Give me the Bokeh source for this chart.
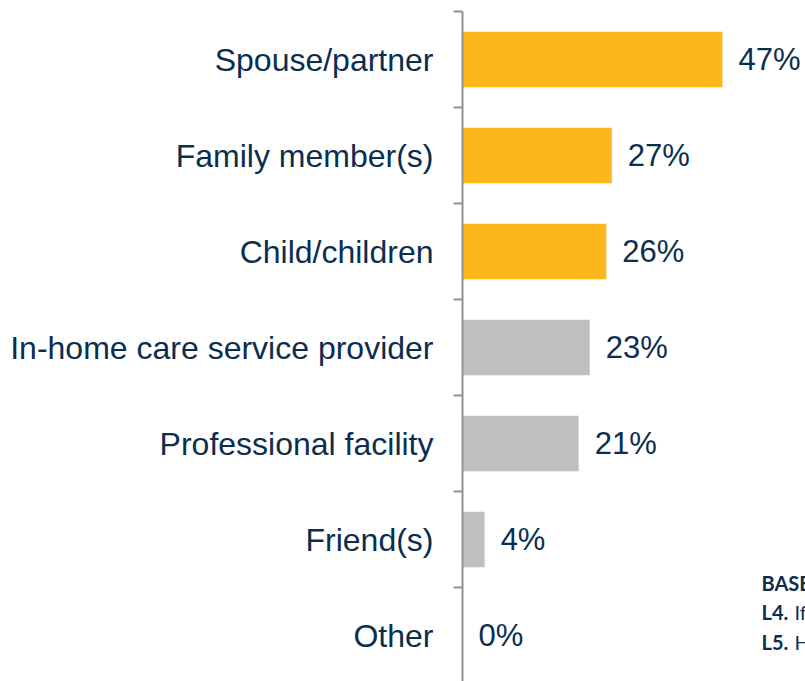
from bokeh.plotting import figure
from bokeh.models import ColumnDataSource, Range1d, FixedTicker, Label
from bokeh.core.properties import value
from bokeh.embed import file_html
from bokeh.resources import INLINE

# ---- data ----
categories = [
    "Spouse/partner",
    "Family member(s)",
    "Child/children",
    "In-home care service provider",
    "Professional facility",
    "Friend(s)",
    "Other",
]
percentages = [47, 27, 26, 23, 21, 4, 0]
highlighted = [True, True, True, False, False, False, False]

footnote_base = "BASE"
footnote_lines = [("L4.", "If"), ("L5.", "H")]

# ---- styling ----
ORANGE = "#FDB71C"
GRAY = "#BFBFBF"
NAVY = "#0B2E4F"
AXIS = "#8E9299"
FONT = "Liberation Sans"
NOTE_FONT = "Lato"

W, H = 805, 681
LEFT, TOP = 462, 11

n = len(categories)
ypos = [n - 1 - i for i in range(n)]
colors = [ORANGE if h else GRAY for h in highlighted]
labels = [f"{v}%" for v in percentages]

src = ColumnDataSource(dict(y=ypos, pct=percentages, color=colors, label=labels))

band_px = 96.0
frame_h = H - TOP
frame_w = W - LEFT
x_scale = 260.0 / 47.0  # px per percent

p = figure(
    width=W, height=H,
    x_range=Range1d(0, frame_w / x_scale),
    y_range=Range1d(n - 0.5 - frame_h / band_px, n - 0.5),
    x_axis_location=None,
    output_backend="svg", toolbar_location=None,
    min_border_left=LEFT, min_border_right=0, min_border_top=TOP, min_border_bottom=0,
)
p.outline_line_color = None
p.grid.visible = False
p.background_fill_color = "white"
p.border_fill_color = "white"

p.hbar(y="y", left=0, right="pct", height=0.58, fill_color="color",
       line_color=None, source=src)

p.text(x="pct", y="y", text="label", source=src, x_offset=16,
       text_align="left", text_baseline="middle",
       text_font=value(FONT), text_font_size="31px", text_color=NAVY)

ax = p.yaxis[0]
ax.ticker = FixedTicker(ticks=ypos, minor_ticks=[k + 0.5 for k in range(-1, n)])
ax.major_label_overrides = {float(y): c for y, c in zip(ypos, categories)}
ax.major_tick_out = 0
ax.major_tick_in = 0
ax.minor_tick_out = 9
ax.minor_tick_in = 0
ax.minor_tick_line_color = AXIS
ax.minor_tick_line_width = 2
ax.axis_line_color = AXIS
ax.axis_line_width = 2
ax.major_label_standoff = 20
ax.major_label_text_font = FONT
ax.major_label_text_font_size = "32px"
ax.major_label_text_color = NAVY
ax.major_label_text_font_style = "normal"

# footnote at the lower right (partly cut by the edge in the original)
fx = 299 / x_scale
fy0 = n - 0.5 - 571 / band_px
step = 29.5 / band_px
NOTE_SIZE = "20px"
p.add_layout(Label(x=fx, y=fy0, text=footnote_base, text_font=NOTE_FONT,
                   text_font_size=NOTE_SIZE, text_font_style="bold",
                   text_color=NAVY, text_baseline="middle"))
for i, (bold, rest) in enumerate(footnote_lines):
    yy = fy0 - (i + 1) * step
    p.add_layout(Label(x=fx, y=yy, text=bold, text_font=NOTE_FONT,
                       text_font_size=NOTE_SIZE, text_font_style="bold",
                       text_color=NAVY, text_baseline="middle"))
    p.add_layout(Label(x=fx, y=yy, x_offset=33, text=rest, text_font=NOTE_FONT,
                       text_font_size=NOTE_SIZE, text_color=NAVY,
                       text_baseline="middle"))

open("out.html", "w").write(file_html(p, INLINE))
